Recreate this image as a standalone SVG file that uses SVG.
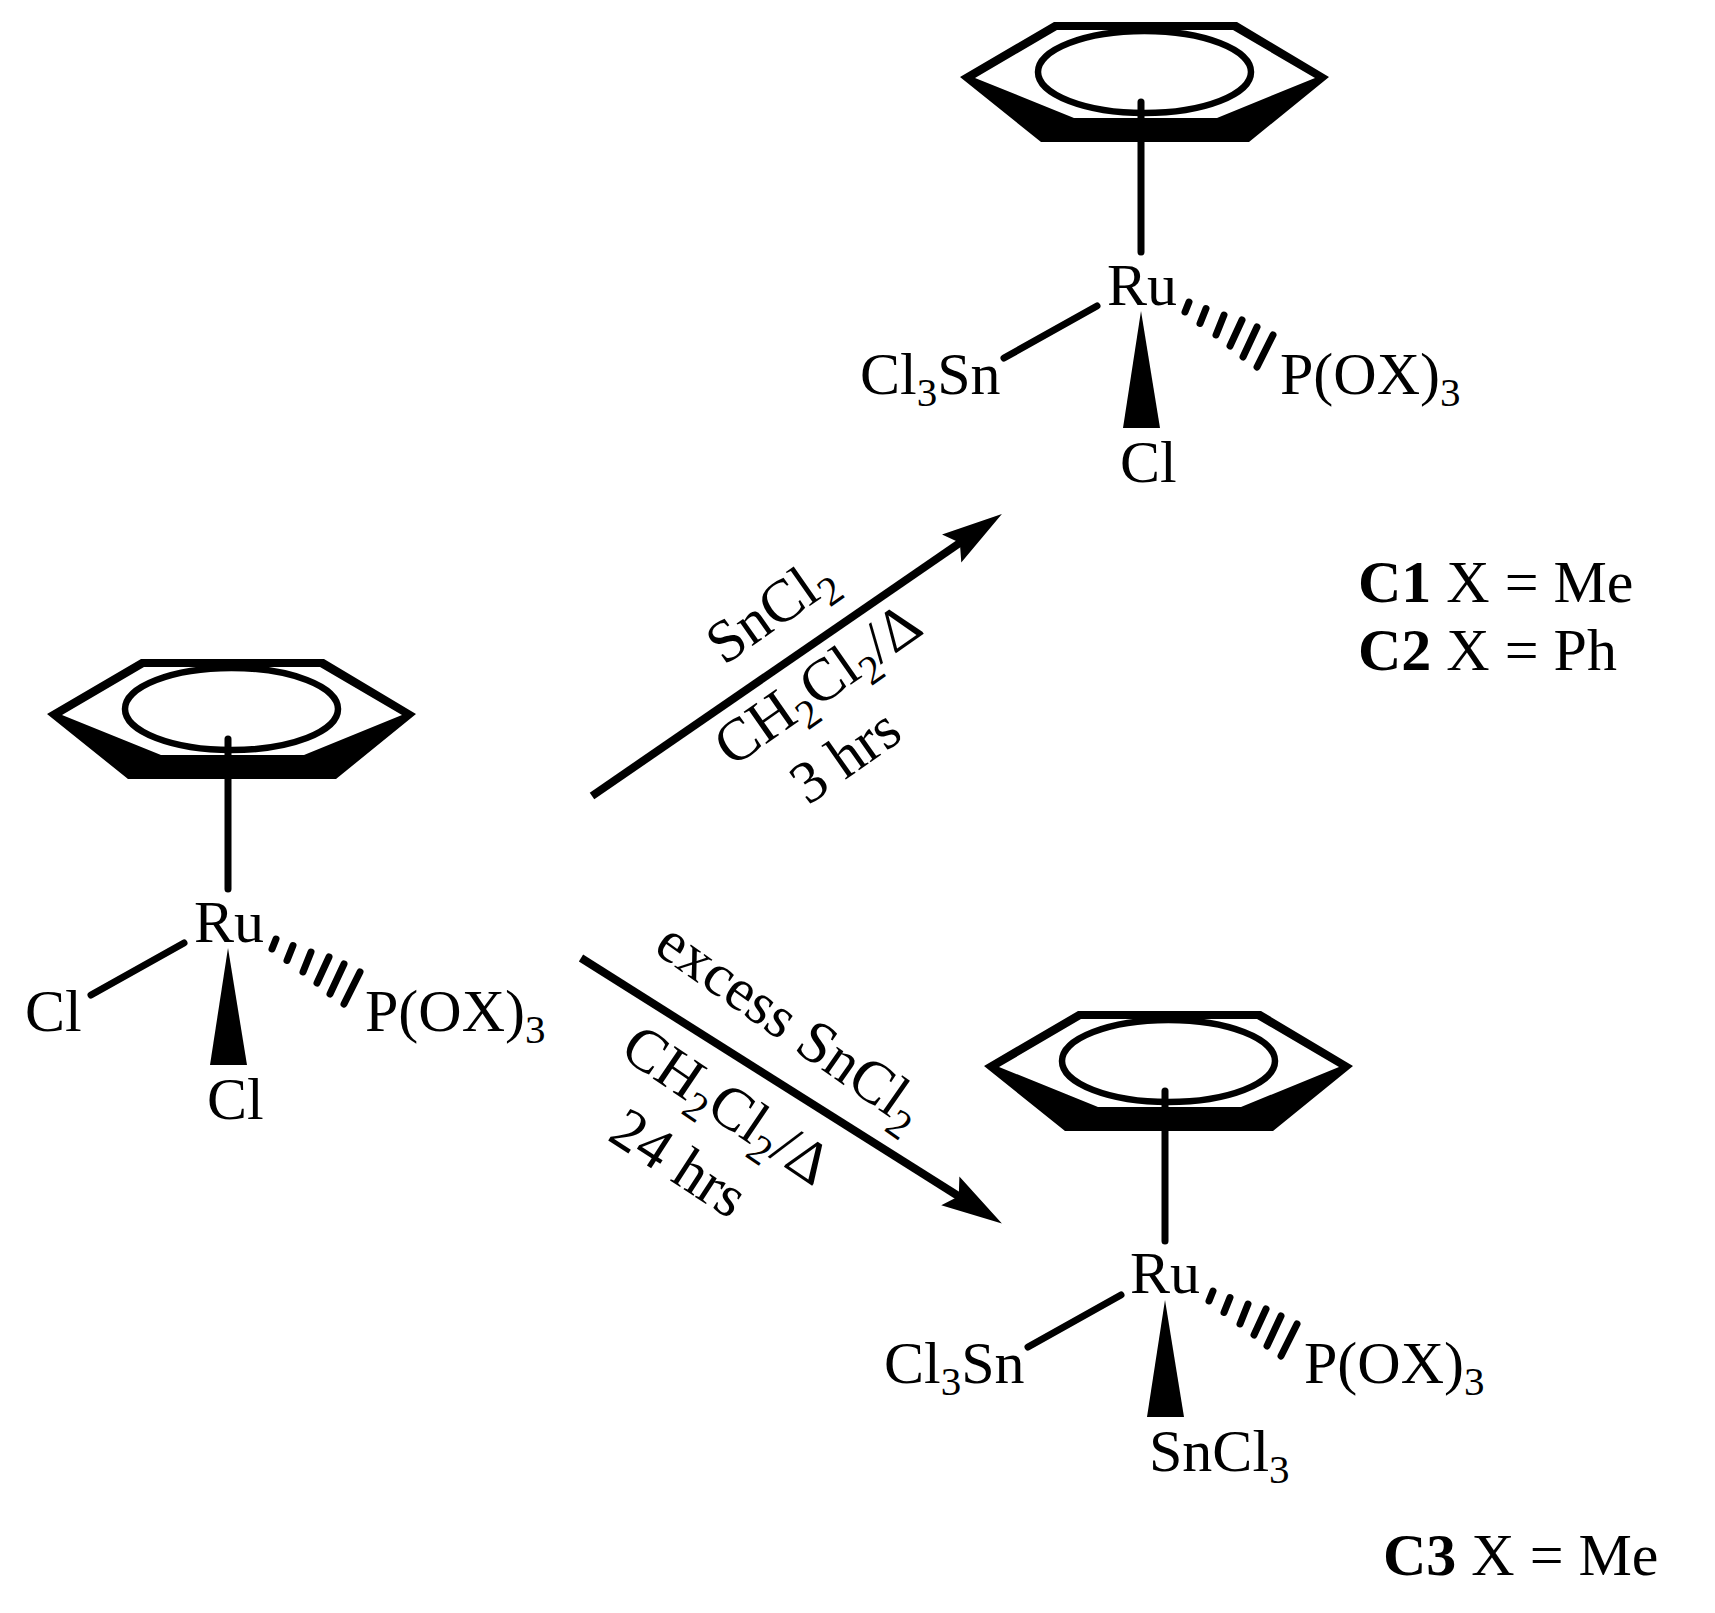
<svg xmlns="http://www.w3.org/2000/svg" width="1715" height="1613" viewBox="0 0 1715 1613">
<style>
text{font-family:"Liberation Serif","Times New Roman",serif;font-size:60px;fill:#000}
.sub{font-size:41px}
.b{font-weight:bold}
.bond{stroke:#000;stroke-width:7;stroke-linecap:round;fill:none}
.stem{stroke:#000;stroke-width:7;fill:none}
.arrow{stroke:#000;stroke-width:8;fill:none;marker-end:url(#head)}
</style>
<defs>
<marker id="head" markerUnits="userSpaceOnUse" markerWidth="80" markerHeight="40" viewBox="-20 -20 80 40" refX="0" refY="0" orient="auto"><polygon points="46,0 -15,-17 -5,0 -15,17" fill="#000"/></marker>
<symbol id="arene" overflow="visible" width="400" height="200" viewBox="0 0 400 200">
<path fill-rule="evenodd" d="M10,77 L104,22 L287,22 L379,77 L299,142 L91,142 Z M25,78 L107,30 L283,30 L365,78 L267,118 L124,118 Z" fill="#000"/>
<ellipse cx="194.500" cy="72" rx="106.500" ry="41" fill="none" stroke="#000" stroke-width="6.500"/>
<path class="stem" d="M191,102 V252" stroke-linecap="round"/>
</symbol>
<g id="dash">
<path class="bond" d="M1189,302 L1185,312 M1206,308.500 L1200,323.500 M1224,315 L1216,335 M1242,320 L1230,346 M1257,327 L1243,357 M1273,335 L1257,367"/>
</g>
</defs>
<g id="connectors">
<path class="arrow" d="M592,796 L964,540"/>
<path class="arrow" d="M581,958 L963,1199"/>
</g>
<g id="mol-left" transform="translate(-913,637)">
<use href="#arene" x="950" y="0"/>
<path class="bond" d="M1097,306 L1004,358"/>
<polygon points="1141,311 1123,428 1160,428" fill="#000"/>
<use href="#dash"/>
</g>
<g id="mol-left-labels">
<text x="194" y="942">Ru</text>
<text x="25" y="1031">Cl</text>
<text x="365" y="1031">P(OX)<tspan class="sub" dy="12">3</tspan></text>
<text x="207" y="1119">Cl</text>
</g>
<g id="mol-c1">
<use href="#arene" x="950" y="0"/>
<path class="bond" d="M1097,306 L1004,358"/>
<polygon points="1141,311 1123,428 1160,428" fill="#000"/>
<use href="#dash"/>
<text x="1107" y="305">Ru</text>
<text x="860" y="394">Cl<tspan class="sub" dy="12">3</tspan><tspan dy="-12">Sn</tspan></text>
<text x="1280" y="394">P(OX)<tspan class="sub" dy="12">3</tspan></text>
<text x="1120" y="482">Cl</text>
</g>
<g id="mol-c3">
<g transform="translate(24,989)">
<use href="#arene" x="950" y="0"/>
<path class="bond" d="M1097,306 L1004,358"/>
<polygon points="1141,311 1123,428 1160,428" fill="#000"/>
<use href="#dash"/>
</g>
<text x="1130" y="1293">Ru</text>
<text x="884" y="1383">Cl<tspan class="sub" dy="12">3</tspan><tspan dy="-12">Sn</tspan></text>
<text x="1304" y="1383">P(OX)<tspan class="sub" dy="12">3</tspan></text>
<text x="1149" y="1471">SnCl<tspan class="sub" dy="12">3</tspan></text>
</g>
<g id="cond-top">
<text transform="translate(724,666) rotate(-35)">SnCl<tspan class="sub" dy="13">2</tspan></text>
<text transform="translate(732,768) rotate(-35)">CH<tspan class="sub" dy="13">2</tspan><tspan dy="-13">Cl</tspan><tspan class="sub" dy="13">2</tspan><tspan dy="-13">/Δ</tspan></text>
<text transform="translate(808,806) rotate(-35)">3 hrs</text>
</g>
<g id="cond-bottom">
<text transform="translate(652,951) rotate(35)">excess SnCl<tspan class="sub" dy="14">2</tspan></text>
<text transform="translate(618,1055) rotate(34)">CH<tspan class="sub" dy="13">2</tspan><tspan dy="-13">Cl</tspan><tspan class="sub" dy="13">2</tspan><tspan dy="-13">/Δ</tspan></text>
<text transform="translate(606,1139) rotate(33)">24 hrs</text>
</g>
<g id="labels">
<text x="1358" y="602"><tspan class="b">C1</tspan> X = Me</text>
<text x="1358" y="670"><tspan class="b">C2</tspan> X = Ph</text>
<text x="1383" y="1575"><tspan class="b">C3</tspan> X = Me</text>
</g>
</svg>
